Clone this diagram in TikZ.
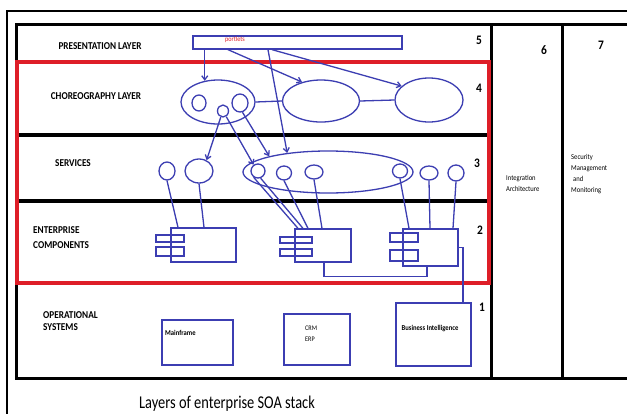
\documentclass[tikz,border=0pt]{standalone}
\usepackage{fontspec}
\setmainfont{Carlito}
\newfontfamily\condfont[FakeStretch=0.88]{Carlito}
\newfontfamily\titlefont[FakeStretch=0.8]{Carlito}
\usetikzlibrary{shapes.geometric,arrows.meta}
\definecolor{bl}{RGB}{60,62,178}
\definecolor{rd}{RGB}{222,30,40}
\begin{document}
\begin{tikzpicture}[x=1pt,y=-1pt,
  blu/.style={draw=bl,line width=1.3pt},
  ell/.style={blu,ellipse,inner sep=0pt},
  box/.style={blu,rectangle,inner sep=0pt},
  arr/.style={blu,-{Straight Barb[length=4pt,width=6pt]}},
  lay/.style={font=\condfont\bfseries\fontsize{10.5}{13}\selectfont,inner sep=0pt,align=left},
  num/.style={font=\condfont\bfseries\fontsize{13}{15}\selectfont,inner sep=0pt},
  small/.style={font=\condfont\fontsize{7.5}{11}\selectfont,inner sep=0pt,align=left},
  boxtext/.style={font=\condfont\bfseries\fontsize{7.5}{11}\selectfont,inner sep=0pt,align=left},
]
\useasboundingbox (0,0) rectangle (627,413);
\fill[white] (0,0) rectangle (627,413);
\clip (0,0) rectangle (627,413);

% frames
\draw[line width=2.5pt] (7,420) -- (7,11) -- (640,11);
\draw[line width=3pt] (16,24) rectangle (640,378);
\draw[line width=3pt] (491,24) -- (491,378);
\draw[line width=3pt] (562,24) -- (562,378);
\draw[line width=3.5pt] (16,62) -- (491,62);
\draw[line width=3.5pt] (16,135) -- (491,135);
\draw[line width=3.5pt] (16,201) -- (491,201);
\draw[line width=3.5pt] (16,283) -- (491,283);
\draw[rd,line width=4pt] (17,62) rectangle (489,283);

% layer labels
\node[lay] (lpres) at (100,46) {PRESENTATION LAYER};
\node[lay] (lchor) at (96,96) {CHOREOGRAPHY LAYER};
\node[lay] (lserv) at (73,163) {SERVICES};
\node[lay,anchor=west,font=\condfont\bfseries\fontsize{10.5}{15}\selectfont] (lent) at (33,237.5) {ENTERPRISE\\COMPONENTS};
\node[lay,anchor=west,font=\condfont\bfseries\fontsize{10.5}{12.5}\selectfont] (lops) at (43,321) {OPERATIONAL\\SYSTEMS};

% numbers
\node[num] (n5) at (479,40) {5};
\node[num] (n4) at (479,88) {4};
\node[num] (n3) at (477,163) {3};
\node[num] (n2) at (480,230) {2};
\node[num] (n1) at (482,307) {1};
\node[num] (n6) at (544,50) {6};
\node[num] (n7) at (601,45) {7};

% side texts
\node[small,anchor=west] (tint) at (506,183.5) {Integration\\Architecture};
\node[small,anchor=west] (tsec) at (571,174.5) {Security\\Management\\\hspace*{2pt}and\\Monitoring};

% presentation
\node[box,minimum width=209pt,minimum height=13pt] (bar) at (297.5,42.5) {};
\node[inner sep=0pt,text=rd,font=\condfont\fontsize{7}{8}\selectfont] (portlets) at (235,40) {portlets};

% choreography
\node[ell,minimum width=74pt,minimum height=44pt] (e1) at (218,102) {};
\node[ell,minimum width=14pt,minimum height=16pt] (c1) at (199,103) {};
\node[ell,minimum width=11pt,minimum height=12pt] (c2) at (223,111) {};
\node[ell,minimum width=16pt,minimum height=18pt] (c3) at (240,103) {};
\node[ell,minimum width=77pt,minimum height=42pt] (e2) at (321,101) {};
\node[ell,minimum width=68pt,minimum height=44pt] (e3) at (429,100) {};
\draw[blu] (e1.east) -- (e2.west);
\draw[blu] (e2.east) -- (e3.west);

% services
\node[ell,minimum width=16pt,minimum height=18pt] (S1) at (167,171) {};
\node[ell,minimum width=28pt,minimum height=24pt] (S2) at (199,171) {};
\node[ell,minimum width=170pt,minimum height=42pt] (se) at (328,172) {};
\node[ell,minimum width=14pt,minimum height=14pt] (s1) at (258,171) {};
\node[ell,minimum width=15pt,minimum height=14pt] (s2) at (284,173) {};
\node[ell,minimum width=18pt,minimum height=14pt] (s3) at (314,172) {};
\node[ell,minimum width=15pt,minimum height=14pt] (s4) at (400,171) {};
\node[ell,minimum width=18pt,minimum height=14pt] (s5) at (429,173) {};
\node[ell,minimum width=16pt,minimum height=16pt] (s6) at (456,173) {};

% arrows
\draw[arr] (bar.south -| e1.122) -- (e1.122);
\draw[arr] (bar.south -| 228,0) -- (e2.135);
\draw[arr] (bar.south -| 272,0) -- (e3.153);
\draw[arr] (bar.south -| 268,0) -- (se.155);
\draw[arr] (c2.250) -- (S2.55);
\draw[arr] (c2.300) -- (s1.125);
\draw[arr] (c3.285) -- (se.165);

% enterprise components
\node[box,minimum width=65pt,minimum height=34pt] (k1) at (203.5,245) {};
\node[box,minimum width=28pt,minimum height=7pt] (k1a) at (170,238.5) {};
\node[box,minimum width=28pt,minimum height=9pt] (k1b) at (170,251.5) {};
\node[box,minimum width=56pt,minimum height=33pt] (k2) at (323,245.5) {};
\node[box,minimum width=32pt,minimum height=6pt] (k2a) at (296,240) {};
\node[box,minimum width=32pt,minimum height=7pt] (k2b) at (296,252.5) {};
\node[box,minimum width=55pt,minimum height=37pt] (k3) at (430.5,247.5) {};
\node[box,minimum width=28pt,minimum height=9pt] (k3a) at (404,237.5) {};
\node[box,minimum width=28pt,minimum height=11pt] (k3b) at (404,255.5) {};

\draw[blu] (S1.south) -- (k1.north -| 178,0);
\draw[blu] (S2.south) -- (k1.north -| 204,0);
\draw[blu] (s1.235) -- (k2.north -| 298,0);
\draw[blu] (s1.290) -- (k2.north -| 303,0);
\draw[blu] (s2.south) -- (k2.north -| 308,0);
\draw[blu] (s3.south) -- (k2.north -| 322,0);
\draw[blu] (s4.south) -- (k3.north -| 409,0);
\draw[blu] (s5.south) -- (k3.north -| 430,0);
\draw[blu] (s6.south) -- (k3.north -| 453,0);
\draw[blu] (k2.south -| 324,0) -- ++(0,14) -| (k3.south -| 427,0);

% operational systems
\node[box,minimum width=71pt,minimum height=45pt] (mf) at (197.5,342.5) {};
\node[boxtext,anchor=west] (tmf) at (165,333) {Mainframe};
\node[box,minimum width=66pt,minimum height=51pt] (crm) at (317,339.5) {};
\node[boxtext,anchor=west,font=\condfont\fontsize{7}{11}\selectfont] (tcrm) at (305,333.5) {CRM\\ERP};
\node[box,minimum width=75pt,minimum height=63pt] (bi) at (433.5,334.5) {};
\node[boxtext] (tbi) at (430,328) {Business Intelligence};
\draw[blu] (k3.east) -| (bi.north -| 463,0);

% title
\node[inner sep=0pt,font=\titlefont\fontsize{18}{20}\selectfont] (title) at (227,404) {Layers of enterprise SOA stack};
\end{tikzpicture}
\end{document}
